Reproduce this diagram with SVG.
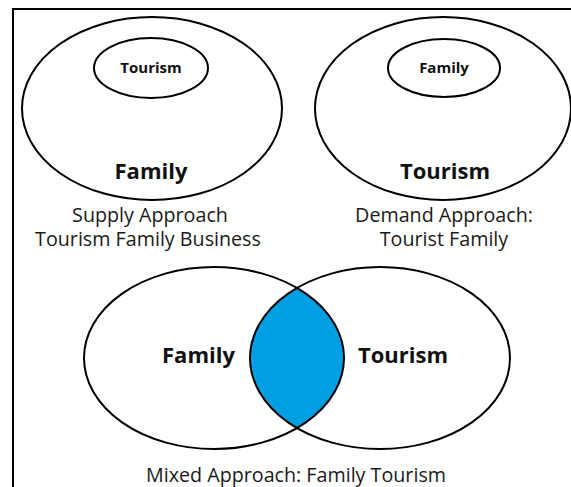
<svg xmlns="http://www.w3.org/2000/svg" width="571" height="487" viewBox="0 0 571 487">
<style>
.e{fill:none;stroke:#000;stroke-width:2}
.b{font-family:"Open Sans","Liberation Sans",sans-serif;font-weight:bold;fill:#111;text-anchor:middle}
.r{font-family:"Open Sans","Liberation Sans",sans-serif;fill:#1a1a1a;text-anchor:middle;font-size:19.7px}
</style>
<rect width="571" height="487" fill="#fff"/>
<g id="frame"><path d="M13,487 V9 H571" fill="none" stroke="#000" stroke-width="2"/></g>
<g id="supply">
<ellipse class="e" cx="152" cy="108.5" rx="130" ry="91.5"/>
<ellipse class="e" cx="151" cy="68" rx="57" ry="30"/>
<text class="b" x="151" y="73" font-size="15">Tourism</text>
<text class="b" x="151" y="179" font-size="22">Family</text>
<text class="r"><tspan x="150" y="222">Supply Approach</tspan><tspan x="148" y="246">Tourism Family Business</tspan></text>
</g>
<g id="demand">
<ellipse class="e" cx="443" cy="108.5" rx="128" ry="91.5"/>
<ellipse class="e" cx="444" cy="68" rx="56" ry="29"/>
<text class="b" x="444" y="73" font-size="15">Family</text>
<text class="b" x="445" y="179" font-size="22">Tourism</text>
<text class="r"><tspan x="444" y="222">Demand Approach:</tspan><tspan x="444" y="246">Tourist Family</tspan></text>
</g>
<g id="mixed">
<path d="M297,288 A130,91 0 0,1 297,428 A130,91 0 0,1 297,288 Z" fill="#009FE3"/>
<ellipse class="e" cx="214" cy="358" rx="130" ry="91"/>
<ellipse class="e" cx="380" cy="358" rx="130" ry="91"/>
<text class="b" x="198.5" y="363" font-size="22">Family</text>
<text class="b" x="403" y="363" font-size="22">Tourism</text>
<text class="r" x="296" y="482">Mixed Approach: Family Tourism</text>
</g>
<g id="connectors"/>
</svg>
